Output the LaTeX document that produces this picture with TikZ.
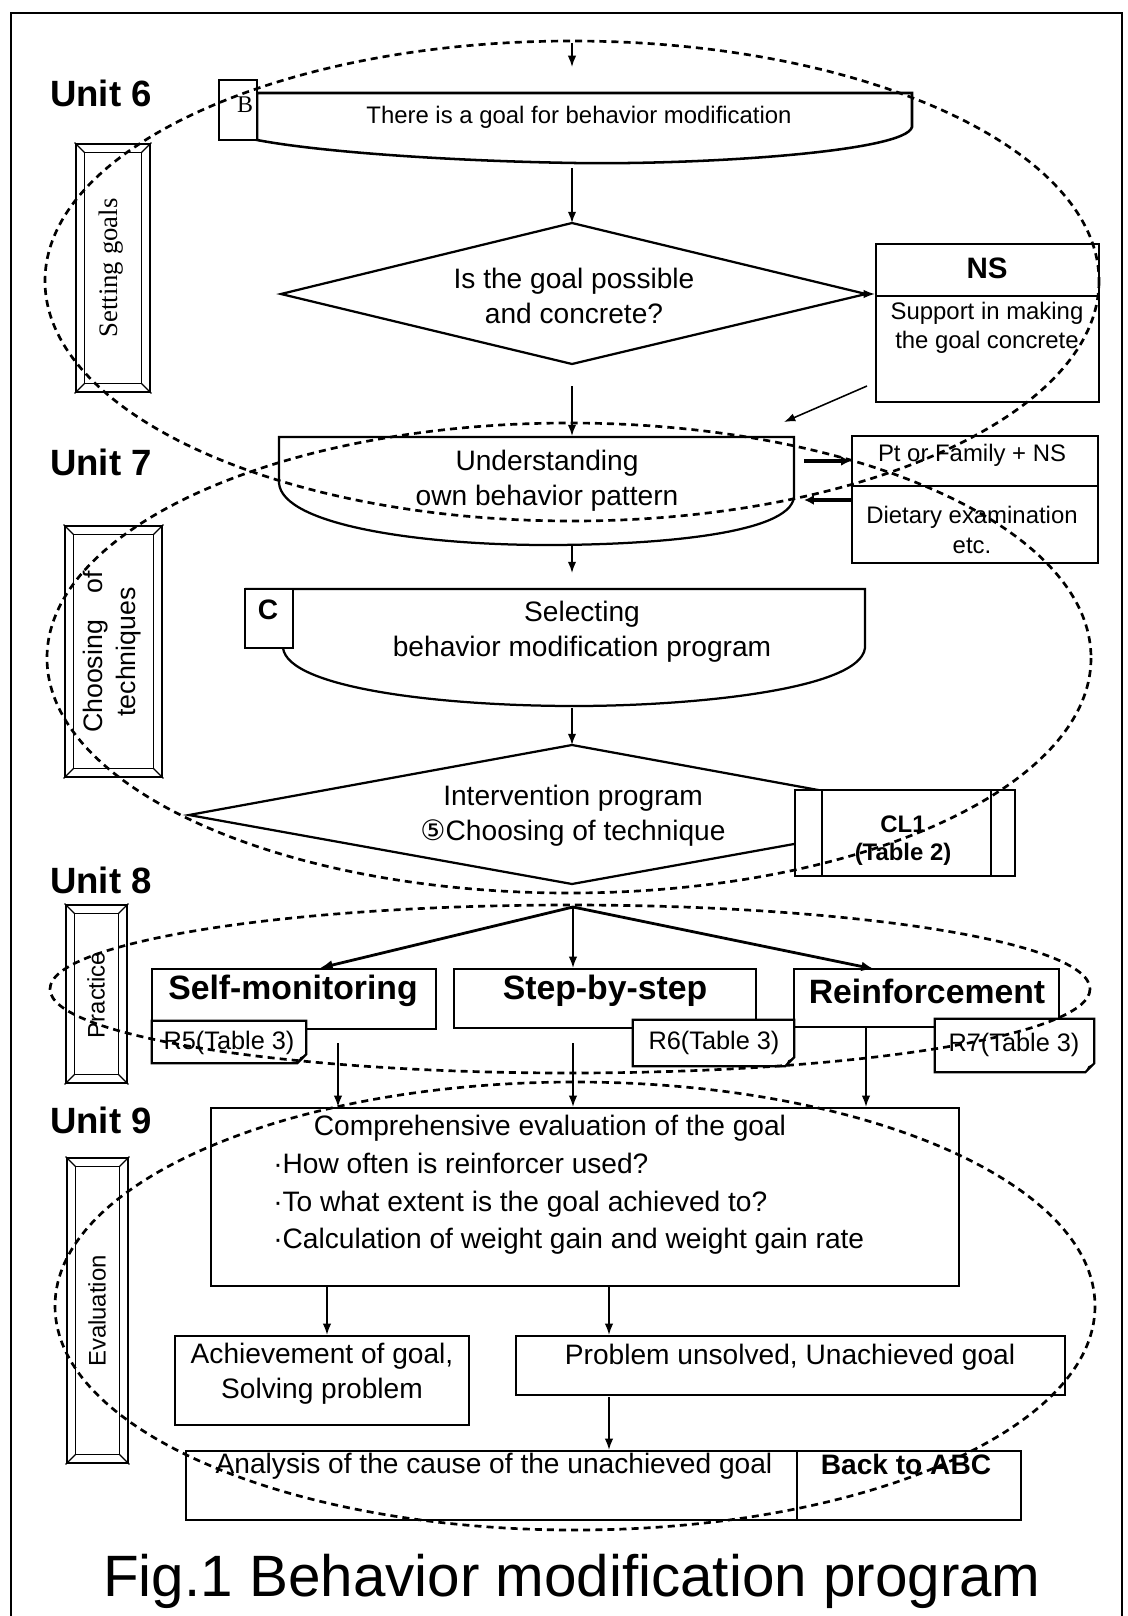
\documentclass[tikz,border=0pt]{standalone}
\usepackage{fontspec}
\setmainfont{Liberation Sans}
\newfontfamily\timesfont{Liberation Serif}
\newfontfamily\symfont{DejaVu Sans}
\usetikzlibrary{arrows.meta,calc,fit}

\tikzset{
  frameline/.style={line width=1.4pt},
  bx/.style={draw, line width=1.6pt, fill=white},
  fitbox/.style={draw, line width=1.6pt, fill=white, inner sep=0pt},
  ring/.style={dash pattern=on 5pt off 3.6pt, line width=1.9pt},
  arr/.style={-{Latex[length=8pt,width=6pt]}, line width=1.1pt},
  fanarr/.style={-{Latex[length=9pt,width=7pt]}, line width=2pt},
  sidearr/.style={-{Latex[length=7pt,width=7pt]}, line width=2.4pt},
  txt/.style={inner sep=0pt, align=center, font=\fontsize{20}{25}\selectfont},
  smalltxt/.style={inner sep=0pt, align=center, font=\fontsize{17}{21}\selectfont},
  reftxt/.style={inner sep=0pt, font=\fontsize{18}{21}\selectfont},
  boldtxt/.style={inner sep=0pt, font=\bfseries\fontsize{24}{28}\selectfont},
  unitlbl/.style={inner sep=0pt, font=\bfseries\fontsize{26}{30}\selectfont},
  sidelbl/.style={inner sep=0pt, rotate=90, align=center, font=\fontsize{19}{23}\selectfont},
}

% framed side label with bevelled corners
\newcommand\bevelbox[3]{%
  \node[fitbox, line width=2pt, fit={#2 #3}] (#1) {};
  \draw[line width=0.9pt] ($(#1.north west)+(10,10)$) rectangle ($(#1.south east)+(-10,-10)$);
  \draw[line width=0.9pt] (#1.north west) -- +(10,10);
  \draw[line width=0.9pt] (#1.north east) -- +(-10,10);
  \draw[line width=0.9pt] (#1.south west) -- +(10,-10);
  \draw[line width=0.9pt] (#1.south east) -- +(-10,-10);
}

% reference card with a folded lower right corner
\newcommand\notebox[3]{%
  \node[inner sep=0pt, fit={#2 #3}] (#1) {};
  \draw[bx] (#1.north west) -- (#1.north east) -- ($(#1.south east)+(0,-9)$)
    -- ($(#1.south east)+(-9,0)$) -- (#1.south west) -- cycle;
  \fill ($(#1.south east)+(-9,0)$) -- ($(#1.south east)+(-6,-6)$) -- ($(#1.south east)+(0,-9)$) -- cycle;
}

\begin{document}
\begin{tikzpicture}[x=0.025cm,y=-0.025cm]
\useasboundingbox (0,0) rectangle (1128,1616);
\fill[white] (0,0) rectangle (1128,1616);
\draw[frameline] (11,1640) -- (11,13) -- (1122,13) -- (1122,1640);

% ---------- unit headings and phase labels ----------
\node[unitlbl] (u6) at (101,93) {Unit 6};
\node[unitlbl] (u7) at (101,462) {Unit 7};
\node[unitlbl] (u8) at (101,880) {Unit 8};
\node[unitlbl] (u9) at (101,1120) {Unit 9};

\bevelbox{lb6}{(76,144)}{(150,392)}
\node[rotate=90, inner sep=0pt, font=\timesfont\fontsize{19}{23}\selectfont] (lt6) at (111,268) {Setting goals};
\bevelbox{lb7}{(65,526)}{(162,777)}
\node[sidelbl] (lt7) at (112,652) {Choosing\quad of\\techniques};
\bevelbox{lb8}{(66,905)}{(127,1083)}
\node[sidelbl, font=\fontsize{17}{21}\selectfont] (lt8) at (96,995) {Practice};
\bevelbox{lb9}{(67,1158)}{(128,1463)}
\node[sidelbl, font=\fontsize{17}{21}\selectfont] (lt9) at (97,1311) {Evaluation};

% ---------- Unit 6 ----------
\coordinate (entry) at (572,43);
\coordinate (entrytip) at (572,67);
\draw[arr] (entry) -- (entrytip);

\draw[bx, line width=1.8pt] (257,93) -- (912,93) -- (912,127)
  .. controls (906,152) and (700,165) .. (575,163)
  .. controls (450,161) and (320,152) .. (257,140) -- cycle;
\node[fitbox, fit={(219,80)(257,140)}] (bsq) {};
\node[inner sep=0pt, font=\timesfont\fontsize{17}{20}\selectfont] (bl) at (245,105) {B};
\node[smalltxt] (goal) at (579,117) {There is a goal for behavior modification};
\coordinate (goalbot) at (572,168);

\coordinate (d1t) at (572,223);
\coordinate (d1l) at (281,294);
\coordinate (d1b) at (572,364);
\coordinate (d1r) at (866,294);
\draw[bx] (d1t) -- (d1r) -- (d1b) -- (d1l) -- cycle;
\node[txt] (d1) at (574,296) {Is the goal possible\\and concrete?};
\draw[arr] (goalbot) -- (d1t);

\node[fitbox, fit={(876,244)(1099,402)}] (ns) {};
\draw[line width=1.6pt] (876,296) -- (1099,296);
\node[inner sep=0pt, font=\bfseries\fontsize{21}{25}\selectfont] (nst) at (987,268) {NS};
\node[smalltxt] (nsd) at (987,328) {Support in making\\the goal concrete};
\draw[arr] (d1r) -- (ns.west |- d1r);

\coordinate (d1out) at (572,386);
\coordinate (nsout) at (867,386);
\coordinate (nsin) at (784,422);
\draw[arr] (nsout) -- (nsin);

% ---------- Unit 7 ----------
\draw[bx] (279,437) -- (794,437) -- (794,497)
  .. controls (790,535) and (650,545) .. (547,545)
  .. controls (420,545) and (282,525) .. (279,483) -- cycle;
\node[txt] (und) at (547,481) {Understanding\\own behavior pattern};
\coordinate (undtop) at (572,436);
\draw[arr] (d1out) -- (undtop);

\node[fitbox, fit={(852,436)(1098,563)}] (pt) {};
\draw[line width=1.6pt] (852,486) -- (1098,486);
\node[smalltxt] (ptt) at (972,455) {Pt or Family + NS};
\node[smalltxt] (ptd) at (972,530) {Dietary examination\\etc.};
\coordinate (ua) at (804,461);
\coordinate (ub) at (804,500);
\draw[sidearr] (ua) -- (ua -| pt.west);
\draw[sidearr] (ub -| pt.west) -- (ub);

\draw[bx] (245,589) -- (865,589) -- (865,648)
  .. controls (860,690) and (690,706) .. (575,706)
  .. controls (440,706) and (288,688) .. (283,648);
\node[fitbox, fit={(245,589)(293,648)}] (csq) {};
\node[inner sep=0pt, font=\bfseries\fontsize{20}{24}\selectfont] (cl) at (268,610) {C};
\node[txt] (sel) at (582,632) {Selecting\\behavior modification program};
\coordinate (undbot) at (572,546);
\coordinate (seltop) at (572,573);
\draw[arr] (undbot) -- (seltop);

\coordinate (d2t) at (572,745);
\coordinate (d2l) at (189,815);
\coordinate (d2b) at (572,884);
\coordinate (d2r) at (955,815);
\draw[bx] (d2t) -- (d2r) -- (d2b) -- (d2l) -- cycle;
\node[txt] (d2) at (573,816) {Intervention program\\{\symfont ⑤}Choosing of technique};
\coordinate (selbot) at (572,708);
\draw[arr] (selbot) -- (d2t);

\node[fitbox, fit={(795,790)(1015,876)}] (cl1) {};
\draw[line width=2pt] (822,790) -- (822,876);
\draw[line width=0.9pt] (991,790) -- (991,876);
\node[inner sep=0pt, align=center, font=\bfseries\fontsize{17}{20}\selectfont] (cl1t) at (903,841) {CL1\\(Table 2)};

% ---------- Unit 8 ----------
\node[fitbox, fit={(152,969)(436,1029)}] (sm) {};
\node[boldtxt] (smt) at (293,991) {Self-monitoring};
\node[fitbox, fit={(454,969)(756,1028)}] (sb) {};
\node[boldtxt] (sbt) at (605,991) {Step-by-step};
\node[fitbox, line width=1.9pt, fit={(794,969)(1059,1027)}] (rf) {};
\node[boldtxt] (rft) at (927,991) {Reinforcement};

\notebox{r5}{(152,1021)}{(306,1063)}
\node[reftxt] (r5t) at (229,1043) {R5(Table 3)};
\notebox{r6}{(633,1020)}{(794,1066)}
\node[reftxt] (r6t) at (714,1043) {R6(Table 3)};
\notebox{r7}{(935,1019)}{(1094,1072)}
\node[reftxt] (r7t) at (1014,1045) {R7(Table 3)};

\coordinate (fan) at (573,907);
\draw[fanarr] (fan) -- (320,968);
\draw[arr] (fan) -- (fan |- sb.north);
\draw[fanarr] (fan) -- (874,969);

% ---------- Unit 9 ----------
\node[fitbox, fit={(211,1108)(959,1286)}] (eval) {};
\node[txt] (evh) at (550,1128) {Comprehensive evaluation of the goal};
\node[txt, anchor=west] (ev1) at (273,1163) {·How often is reinforcer used?};
\node[txt, anchor=west] (ev2) at (273,1204) {·To what extent is the goal achieved to?};
\node[txt, anchor=west] (ev3) at (273,1241) {·Calculation of weight gain and weight gain rate};

\coordinate (s1) at (338,1043);
\coordinate (s2) at (573,1043);
\coordinate (s3) at (866,1028);
\draw[arr] (s1) -- (s1 |- eval.north);
\draw[arr] (s2) -- (s2 |- eval.north);
\draw[arr] (s3) -- (s3 |- eval.north);

\node[fitbox, fit={(175,1336)(469,1425)}] (ach) {};
\node[txt] (acht) at (322,1374) {Achievement of goal,\\Solving problem};
\node[fitbox, fit={(516,1336)(1065,1395)}] (prob) {};
\node[txt] (probt) at (790,1357) {Problem unsolved, Unachieved goal};

\coordinate (e1) at (327,1286);
\coordinate (e2) at (609,1286);
\draw[arr] (e1) -- (e1 |- ach.north);
\draw[arr] (e2) -- (e2 |- prob.north);

\node[fitbox, fit={(186,1451)(1021,1520)}] (ana) {};
\draw[line width=1.6pt] (797,1451) -- (797,1520);
\node[txt] (anat) at (494,1466) {Analysis of the cause of the unachieved goal};
\node[inner sep=0pt, font=\bfseries\fontsize{20}{24}\selectfont] (back) at (906,1464) {Back to ABC};
\coordinate (p1) at (609,1397);
\draw[arr] (p1) -- (p1 |- ana.north);

% ---------- caption ----------
\node[inner sep=0pt, anchor=base, font=\fontsize{41.5}{50}\selectfont] (title) at (572,1596) {Fig.1 Behavior modification program};

% ---------- dashed unit boundaries ----------
\draw[ring] (572,281) ellipse [x radius=527, y radius=240];
\draw[ring] (569,658) ellipse [x radius=522, y radius=235];
\draw[ring] (570,989) ellipse [x radius=520, y radius=84];
\draw[ring] (575,1306) ellipse [x radius=520, y radius=224];
\end{tikzpicture}
\end{document}
